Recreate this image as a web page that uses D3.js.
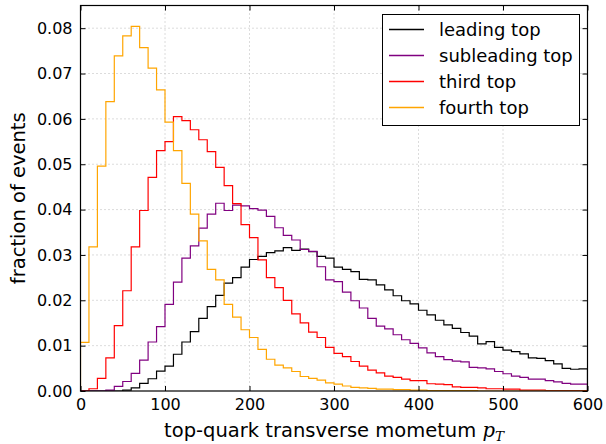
<!DOCTYPE html>
<html><head><meta charset="utf-8">
<script src="https://cdn.jsdelivr.net/npm/d3@7/dist/d3.min.js"></script>
<style>body{margin:0;background:#fff} text{font-family:"DejaVu Sans",sans-serif;fill:#000}</style>
</head><body><svg id="c" width="606" height="444"></svg>
<script>
// ---- data ----
const binStarts = d3.range(0, 600, 10);   // histogram bins of 10 GeV
const binWidth = 10;
const xTicks = [0, 100, 200, 300, 400, 500, 600];
const yTicks = [0.00, 0.01, 0.02, 0.03, 0.04, 0.05, 0.06, 0.07, 0.08];
const seriesNames = ["leading top", "subleading top", "third top", "fourth top"];
const seriesColors = ["#000000", "#800080", "#ff0000", "#ffa500"];

const leading = [0,0,0,0,0,0.0002,0.0007,0.0017,0.0027,0.0044,
  0.0055,0.0081,0.0108,0.0131,0.0160,0.0186,0.0211,0.0238,0.0250,0.0273,
  0.0290,0.0297,0.0305,0.0309,0.0316,0.0310,0.0313,0.0307,0.0297,0.0293,
  0.0273,0.0268,0.0263,0.0246,0.0245,0.0234,0.0223,0.0210,0.0199,0.0192,
  0.0178,0.0168,0.0156,0.0146,0.0138,0.0129,0.0121,0.0104,0.0109,0.0096,
  0.0090,0.0087,0.0082,0.0073,0.0072,0.0067,0.0060,0.0050,0.0048,0.0049];
const subleading = [0,0,0,0.0002,0.0010,0.0021,0.0039,0.0068,0.0108,0.0142,
  0.0191,0.0240,0.0293,0.0320,0.0359,0.0390,0.0414,0.0398,0.0410,0.0408,
  0.0402,0.0399,0.0385,0.0360,0.0343,0.0333,0.0312,0.0308,0.0274,0.0245,
  0.0241,0.0218,0.0199,0.0183,0.0160,0.0143,0.0137,0.0124,0.0113,0.0105,
  0.0095,0.0084,0.0076,0.0069,0.0066,0.0064,0.0052,0.0051,0.0049,0.0043,
  0.0038,0.0033,0.0030,0.0026,0.0026,0.0023,0.0020,0.0017,0.0015,0.0015];
const third = [0,0.0005,0.0028,0.0073,0.0144,0.0221,0.0318,0.0398,0.0471,0.0530,
  0.0550,0.0605,0.0596,0.0576,0.0554,0.0528,0.0493,0.0453,0.0413,0.0367,
  0.0338,0.0289,0.0250,0.0228,0.0200,0.0170,0.0150,0.0130,0.0118,0.0096,
  0.0083,0.0076,0.0065,0.0055,0.0046,0.0040,0.0033,0.0030,0.0026,0.0023,
  0.0023,0.0016,0.0015,0.0014,0.0009,0.0008,0.0008,0.0007,0.0005,0.0005,
  0.0004,0.0004,0.0002,0.0002,0.0002,0.0001,0.0001,0.0001,0.0001,0.0001];
const fourth = [0.0107,0.0318,0.0496,0.0638,0.0739,0.0783,0.0804,0.0757,0.0712,0.0664,
  0.0593,0.0530,0.0458,0.0390,0.0331,0.0268,0.0245,0.0191,0.0163,0.0135,
  0.0118,0.0092,0.0070,0.0057,0.0051,0.0043,0.0032,0.0028,0.0024,0.0018,
  0.0015,0.0011,0.0008,0.0007,0.0006,0.0004,0.0004,0.0003,0.0003,0.0002,
  0.0002,0.0001,0.0001,0.0001,0.0001,0.0001,0.0001,0,0,0,
  0,0,0,0,0,0,0,0,0,0];
const seriesValues = [leading, subleading, third, fourth];

// ---- layout ----
const L = 80.5, R = 587.5, T = 5.5, B = 391;
const svg = d3.select("#c");
const x = d3.scaleLinear().domain([0, 600]).range([L, R]);
const y = d3.scaleLinear().domain([0, 0.085]).range([B, T]);

// grid
const g = svg.append("g");
g.selectAll("line.gx").data(xTicks.slice(1, -1)).join("line")
  .attr("x1", d => x(d)).attr("x2", d => x(d)).attr("y1", T).attr("y2", B)
  .attr("stroke", "#b8b8b8").attr("stroke-width", 1).attr("stroke-dasharray", "1,3");
g.selectAll("line.gy").data(yTicks.slice(1)).join("line")
  .attr("y1", d => y(d)).attr("y2", d => y(d)).attr("x1", L).attr("x2", R)
  .attr("stroke", "#b8b8b8").attr("stroke-width", 1).attr("stroke-dasharray", "1,3");

// clip
svg.append("clipPath").attr("id", "clip").append("rect")
  .attr("x", L).attr("y", T).attr("width", R - L).attr("height", B - T);

const line = d3.line().x(d => x(d[0])).y(d => y(d[1])).curve(d3.curveStepAfter);
seriesValues.forEach((vals, i) => {
  const pts = [[binStarts[0], 0]];
  vals.forEach((v, k) => pts.push([binStarts[k], v]));
  pts.push([binStarts[binStarts.length - 1] + binWidth, vals[vals.length - 1]]);
  pts.push([binStarts[binStarts.length - 1] + binWidth, 0]);
  svg.append("path").attr("d", line(pts)).attr("fill", "none")
    .attr("stroke", seriesColors[i]).attr("stroke-width", 1.2)
    .attr("clip-path", "url(#clip)");
});

// axes (ticks inside, on all four sides)
const tickLen = 5;
const axB = svg.append("g").attr("transform", `translate(0,${B})`)
  .call(d3.axisBottom(x).tickValues(xTicks).tickSize(-tickLen).tickPadding(8).tickFormat(d3.format("d")));
const axT = svg.append("g").attr("transform", `translate(0,${T})`)
  .call(d3.axisTop(x).tickValues(xTicks).tickSize(-tickLen).tickFormat(""));
const axL = svg.append("g").attr("transform", `translate(${L},0)`)
  .call(d3.axisLeft(y).tickValues(yTicks).tickSize(-tickLen).tickPadding(8).tickFormat(d3.format(".2f")));
const axR = svg.append("g").attr("transform", `translate(${R},0)`)
  .call(d3.axisRight(y).tickValues(yTicks).tickSize(-tickLen).tickFormat(""));
[axB, axT, axL, axR].forEach(a => {
  a.select(".domain").remove();
  a.selectAll("line").attr("stroke", "#000").attr("stroke-width", 1);
  a.selectAll("text").style("font-family", "DejaVu Sans").style("font-size", "16px").attr("fill", "#000");
});
// frame
svg.append("rect").attr("x", L).attr("y", T).attr("width", R - L).attr("height", B - T)
  .attr("fill", "none").attr("stroke", "#000").attr("stroke-width", 1.2);

// axis labels
const xl = svg.append("text").attr("x", (L + R) / 2).attr("y", 437).attr("text-anchor", "middle")
  .style("font-size", "19.5px");
xl.append("tspan").text("top-quark transverse mometum ");
xl.append("tspan").text("p").style("font-family", "DejaVu Serif").style("font-style", "italic");
xl.append("tspan").text("T").style("font-family", "DejaVu Serif").style("font-style", "italic")
  .style("font-size", "13.5px").attr("dy", 4);
svg.append("text").attr("transform", `translate(25,${(T + B) / 2}) rotate(-90)`)
  .attr("text-anchor", "middle").style("font-size", "19.5px").text("fraction of events");

// legend
const lg = svg.append("g");
lg.append("rect").attr("x", 382.5).attr("y", 14.5).attr("width", 197).attr("height", 111)
  .attr("fill", "#fff").attr("stroke", "#000").attr("stroke-width", 1);
seriesNames.forEach((n, i) => {
  const cy = 29.5 + i * 26;
  lg.append("line").attr("x1", 389).attr("x2", 424).attr("y1", cy).attr("y2", cy)
    .attr("stroke", seriesColors[i]).attr("stroke-width", 1.3);
  lg.append("text").attr("x", 439).attr("y", cy + 6).style("font-size", "18px").text(n);
});
</script></body></html>
